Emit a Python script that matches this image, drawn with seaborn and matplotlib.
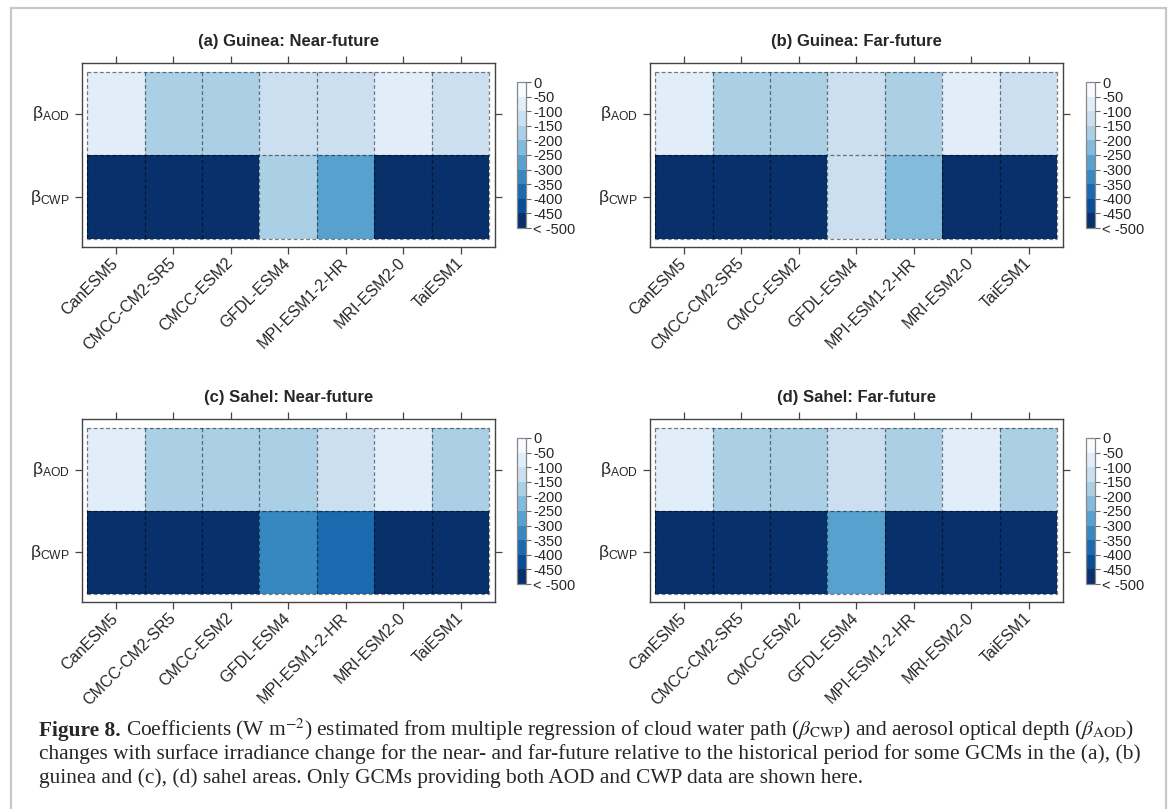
import numpy as np
import pandas as pd
import matplotlib
matplotlib.use("Agg")
import matplotlib.pyplot as plt
import matplotlib.colors as mcolors
from matplotlib.patches import Rectangle
import seaborn as sns

# ── data ────────────────────────────────────────────────────────────────────
gcms = ["CanESM5", "CMCC-CM2-SR5", "CMCC-ESM2", "GFDL-ESM4",
        "MPI-ESM1-2-HR", "MRI-ESM2-0", "TaiESM1"]
row_labels = ["β$_{\\mathrm{AOD}}$", "β$_{\\mathrm{CWP}}$"]

guinea_near_aod = [-75, -175, -175, -125, -125, -75, -125]
guinea_near_cwp = [-550, -550, -550, -175, -275, -550, -550]
guinea_far_aod = [-75, -175, -175, -125, -175, -75, -125]
guinea_far_cwp = [-550, -550, -550, -125, -225, -550, -550]
sahel_near_aod = [-75, -175, -175, -175, -125, -75, -175]
sahel_near_cwp = [-550, -550, -550, -325, -375, -550, -550]
sahel_far_aod = [-75, -175, -175, -125, -175, -75, -175]
sahel_far_cwp = [-550, -550, -550, -275, -550, -550, -550]

titles = ["(a) Guinea: Near-future", "(b) Guinea: Far-future",
          "(c) Sahel: Near-future", "(d) Sahel: Far-future"]
levels = list(range(-500, 1, 50))
level_labels = ["< -500"] + [str(v) for v in levels[1:]]

panels = [
    (guinea_near_aod, guinea_near_cwp),
    (guinea_far_aod, guinea_far_cwp),
    (sahel_near_aod, sahel_near_cwp),
    (sahel_far_aod, sahel_far_cwp),
]

# ── style ───────────────────────────────────────────────────────────────────
sns.set_theme(style="ticks")
plt.rcParams["font.family"] = ["Liberation Sans", "DejaVu Sans"]
plt.rcParams["mathtext.fontset"] = "custom"
plt.rcParams["mathtext.rm"] = "Liberation Sans"
plt.rcParams["mathtext.it"] = "Liberation Sans:italic"
plt.rcParams["mathtext.bf"] = "Liberation Sans:bold"
plt.rcParams["axes.unicode_minus"] = False

W, H = 1173, 809
fig = plt.figure(figsize=(W / 100, H / 100), dpi=100)


def px_axes(x0, y0, x1, y1):
    return fig.add_axes([x0 / W, 1 - y1 / H, (x1 - x0) / W, (y1 - y0) / H])


blues = plt.get_cmap("Blues")(np.linspace(0, 1, 10))[::-1]
cmap = mcolors.ListedColormap(blues).with_extremes(under=blues[0])
norm = mcolors.BoundaryNorm(levels, cmap.N)

frame_col = "#444444"
box_x = [(82, 495), (650, 1063)]
box_y = [(63, 247), (419, 602)]
cbar_x = [(517, 526), (1086, 1095)]

for i, (title, (aod, cwp)) in enumerate(zip(titles, panels)):
    r, c = divmod(i, 2)
    ax = px_axes(box_x[c][0], box_y[r][0], box_x[c][1], box_y[r][1])
    cy0 = box_y[r][0] + 19
    cax = px_axes(cbar_x[c][0], cy0, cbar_x[c][1], cy0 + 146)

    df = pd.DataFrame([aod, cwp], index=row_labels, columns=gcms)
    sns.heatmap(df, ax=ax, cmap=cmap, norm=norm, cbar_ax=cax,
                xticklabels=gcms, yticklabels=row_labels)

    # dashed cell borders like the lattice levelplot
    nr, nc = df.shape
    ax.vlines(np.arange(nc + 1), 0, nr, colors="black", alpha=0.5,
              linestyles=(0, (3, 2)), linewidth=0.9)
    ax.hlines(np.arange(nr + 1), 0, nc, colors="black", alpha=0.5,
              linestyles=(0, (3, 2)), linewidth=0.9)

    ax.set_xlim(-0.09, nc + 0.1)
    ax.set_ylim(nr + 0.1, -0.11)
    for s in ax.spines.values():
        s.set_visible(True)
        s.set_color(frame_col)
        s.set_linewidth(1.0)
    ax.tick_params(top=True, right=True, labeltop=False, labelright=False,
                   direction="out", length=5, width=0.9, color=frame_col)
    ax.tick_params(axis="x", pad=5)
    ax.set_xticklabels(gcms, rotation=45, ha="right", va="center",
                       rotation_mode="anchor", fontsize=11.5)
    ax.set_yticklabels(row_labels, rotation=0, fontsize=12.5)
    ax.set_xlabel("")
    ax.set_ylabel("")
    ax.set_title(title, fontsize=12, fontweight="bold", pad=12)

    cb = ax.collections[0].colorbar
    cb.set_ticks(levels)
    cb.set_ticklabels(level_labels)
    cb.outline.set_visible(True)
    cb.outline.set_linewidth(0.9)
    cb.outline.set_edgecolor("#888888")
    cax.tick_params(labelsize=10.5, length=3.5, width=0.8, color="#666666",
                    pad=1.5)

# outer light frame
fig.patches.append(Rectangle((11 / W, -0.02), (1166 - 11) / W, 1 - 8 / H + 0.02,
                             transform=fig.transFigure, fill=False,
                             edgecolor="#c8c8c8", linewidth=1.6))

# caption
cap_kw = dict(fontsize=15.4, family="Liberation Serif", math_fontfamily="stix",
              va="baseline", ha="left")
renderer = fig.canvas.get_renderer()
t0 = fig.text(39 / W, 1 - 736 / H, "Figure 8.", fontweight="bold", **cap_kw)
bb = t0.get_window_extent(renderer)
fig.text(bb.x1 / W + 5 / W, 1 - 736 / H,
         "Coefficients (W m$^{-2}$) estimated from multiple regression of cloud "
         "water path ($\\beta_{\\mathrm{CWP}}$) and aerosol optical depth "
         "($\\beta_{\\mathrm{AOD}}$)", **cap_kw)
fig.text(39 / W, 1 - 759.5 / H,
         "changes with surface irradiance change for the near- and far-future "
         "relative to the historical period for some GCMs in the (a), (b)",
         **cap_kw)
fig.text(39 / W, 1 - 782.5 / H,
         "guinea and (c), (d) sahel areas. Only GCMs providing both AOD and CWP "
         "data are shown here.", **cap_kw)

fig.savefig("out.png", dpi=100)
